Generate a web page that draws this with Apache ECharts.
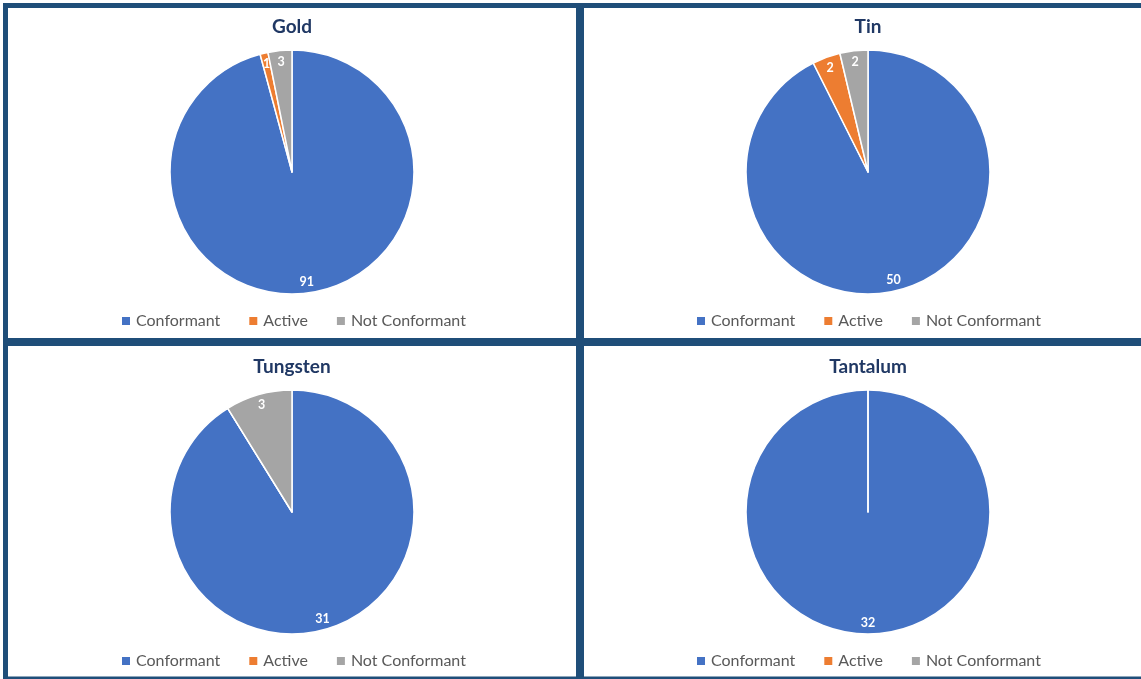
<!DOCTYPE html>
<html>
<head>
<meta charset="utf-8">
<script src="https://cdn.jsdelivr.net/npm/echarts@6/dist/echarts.min.js"></script>
<style>
html,body{margin:0;padding:0;background:#fff;}
#chart{width:1141px;height:679px;}
</style>
</head>
<body>
<div id="chart"></div>
<script>
const categories = ['Conformant', 'Active', 'Not Conformant'];
const colors = ['#4472C4', '#ED7D31', '#A5A5A5'];
const titles = ['Gold', 'Tin', 'Tungsten', 'Tantalum'];
const goldValues = [91, 1, 3];
const tinValues = [50, 2, 2];
const tungstenValues = [31, 0, 3];
const tantalumValues = [32, 0, 0];
const allValues = [goldValues, tinValues, tungstenValues, tantalumValues];

const centers = [[292, 172], [868, 172], [292, 512], [868, 512]];
const legendCenters = [296, 871, 296, 871];
const FONT = 'Lato, "Open Sans", sans-serif';

const chart = echarts.init(document.getElementById('chart'));

const title = [];
const legend = [];
const series = [];
allValues.forEach((vals, i) => {
  const c = centers[i];
  title.push({
    text: titles[i],
    left: c[0], top: c[1] - 155, textAlign: 'center', padding: 0,
    textStyle: { fontFamily: FONT, fontWeight: 'bold', fontSize: 19, color: '#203864' }
  });
  legend.push({
    left: legendCenters[i] - 176, width: 360, top: c[1] + 141, padding: 0,
    orient: 'horizontal',
    itemWidth: 10, itemHeight: 10, itemGap: 27, icon: 'rect',
    selectedMode: false,
    data: categories.map((n, k) => ({ name: n, itemStyle: { color: colors[k] } })),
    textStyle: { fontFamily: FONT, fontSize: 16, color: '#595959' }
  });
  const data = categories.map((n, k) => ({ name: n, value: vals[k], itemStyle: { color: colors[k] } }));
  series.push({
    type: 'pie', center: c, radius: [0, 122], startAngle: 90, clockwise: true,
    avoidLabelOverlap: false, silent: true, animation: false,
    itemStyle: { borderColor: '#ffffff', borderWidth: 1.5 },
    label: { show: false }, labelLine: { show: false },
    data: data
  });
  series.push({
    type: 'pie', center: c, radius: [96, 120], startAngle: 90, clockwise: true,
    avoidLabelOverlap: false, silent: true, animation: false,
    itemStyle: { color: 'rgba(0,0,0,0)', borderWidth: 0 },
    label: {
      show: true, position: 'inside', color: '#ffffff',
      fontFamily: FONT, fontWeight: 'bold', fontSize: 12.5,
      formatter: p => (p.value ? String(p.value) : '')
    },
    labelLine: { show: false },
    data: categories.map((n, k) => ({ name: n, value: vals[k] }))
  });
});

const B = '#1F4E79';
const graphic = [
  { type: 'line', shape: { x1: 3, y1: 5.5, x2: 1141, y2: 5.5 }, style: { stroke: B, lineWidth: 5 }, z: 100 },
  { type: 'line', shape: { x1: 5.5, y1: 3, x2: 5.5, y2: 679 }, style: { stroke: B, lineWidth: 5 }, z: 100 },
  { type: 'line', shape: { x1: 580, y1: 3, x2: 580, y2: 679 }, style: { stroke: B, lineWidth: 8 }, z: 100 },
  { type: 'line', shape: { x1: 3, y1: 342, x2: 1141, y2: 342 }, style: { stroke: B, lineWidth: 8 }, z: 100 },
  { type: 'line', shape: { x1: 3, y1: 678, x2: 1141, y2: 678 }, style: { stroke: B, lineWidth: 3 }, z: 100 }
];

chart.setOption({ animation: false, title, legend, series, graphic });
</script>
</body>
</html>
